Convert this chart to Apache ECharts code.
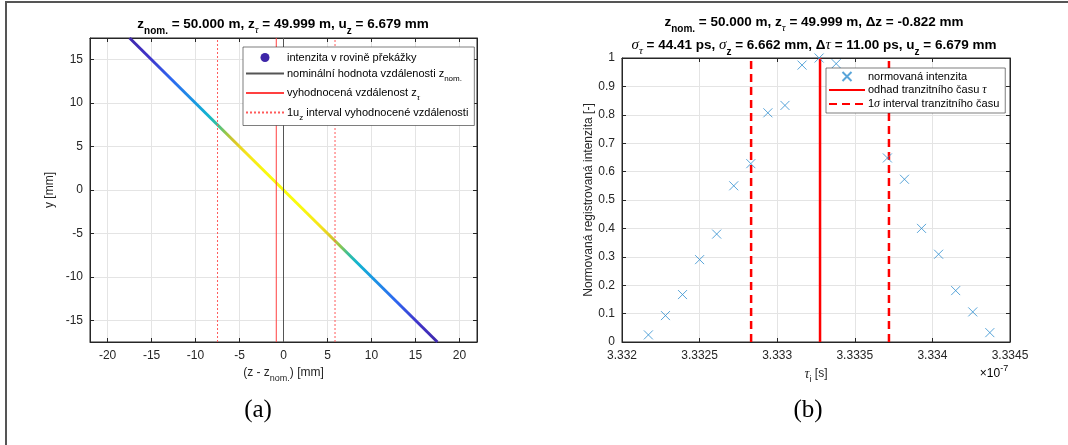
<!DOCTYPE html>
<html><head><meta charset="utf-8">
<script src="https://cdn.jsdelivr.net/npm/echarts@6/dist/echarts.min.js"></script>
<style>html,body{margin:0;padding:0;background:#fff}#c{width:1068px;height:445px}</style>
</head><body><div id="c"></div>
<script>
// ---------- panel (a) data ----------
const lineZ = [-17.5, 17.5];          // (z - z_nom) [mm]
const lineY = [17.5, -17.5];          // y [mm]
const zNomOffset = 0;
const zTauOffset = -0.822;            // mm
const uZ = 6.679;                     // mm
const yRangeA = [-17.5, 17.5];
const xRangeA = [-22, 22];
// ---------- panel (b) data (tau in units of 1e-7 s) ----------
const tauValues = [3.33217, 3.33228, 3.33239, 3.33250, 3.33261, 3.33272, 3.33283, 3.33294, 3.33305, 3.33316, 3.33327, 3.33338,
                   3.33371, 3.33382, 3.33393, 3.33404, 3.33415, 3.33426, 3.33437];
const intensity = [0.025, 0.093, 0.167, 0.29, 0.38, 0.55, 0.628, 0.807, 0.833, 0.975, 1.0, 0.98,
                   0.648, 0.573, 0.40, 0.309, 0.181, 0.106, 0.033];
const tauEst = 3.333276;
const sigmaTau = 0.0004441;
const xRangeB = [3.332, 3.3345];
const yRangeB = [0, 1];

const SANS = 'Liberation Sans';
const SERIF = 'Liberation Serif';
const AX = '#262626';
const GRID = '#e4e4e4';

const titleRich = {
  b:  {fontFamily: SANS, fontWeight: 'bold', fontSize: 13.5, color: '#000', lineHeight: 24},
  bs: {fontFamily: SANS, fontWeight: 'bold', fontSize: 10, color: '#000', lineHeight: 24, verticalAlign: 'bottom'},
  gi: {fontFamily: SERIF, fontStyle: 'italic', fontSize: 15, color: '#000', lineHeight: 24},
  gs: {fontFamily: SERIF, fontStyle: 'italic', fontSize: 11, color: '#000', lineHeight: 24, verticalAlign: 'bottom'}
};
const labRich = {
  t: {fontFamily: SANS, fontSize: 12, color: AX, lineHeight: 20},
  s: {fontFamily: SANS, fontSize: 9, color: AX, lineHeight: 20, verticalAlign: 'bottom'},
  g: {fontFamily: SERIF, fontStyle: 'italic', fontSize: 14, color: AX, lineHeight: 20},
  p: {fontFamily: SANS, fontSize: 9, color: AX, lineHeight: 20, verticalAlign: 'top'}
};
function legRich(lh) {
  return {
    t: {fontFamily: SANS, fontSize: 11, color: '#000', lineHeight: lh},
    s: {fontFamily: SANS, fontSize: 8, color: '#000', lineHeight: lh, verticalAlign: 'bottom'},
    g: {fontFamily: SERIF, fontStyle: 'italic', fontSize: 12, color: '#000', lineHeight: lh},
    gs: {fontFamily: SERIF, fontStyle: 'italic', fontSize: 9, color: '#000', lineHeight: lh, verticalAlign: 'bottom'}
  };
}

const N_DIAG = 'intenzita v rovině překážky';
const N_NOM = 'nominální hodnota vzdálenosti z_nom.';
const N_TAU = 'vyhodnocená vzdálenost z_tau';
const N_UZ = '1u_z interval vyhodnocené vzdálenosti';
const N_INT = 'normovaná intenzita';
const N_EST = 'odhad tranzitního času tau';
const N_SIG = '1sigma interval tranzitního času';
const legendText = {};
legendText[N_DIAG] = '{t|intenzita v rovině překážky}';
legendText[N_NOM] = '{t|nominální hodnota vzdálenosti z}{s|nom.}';
legendText[N_TAU] = '{t|vyhodnocená vzdálenost z}{gs|τ}';
legendText[N_UZ] = '{t|1u}{s|z}{t| interval vyhodnocené vzdálenosti}';
legendText[N_INT] = '{t|normovaná intenzita}';
legendText[N_EST] = '{t|odhad tranzitního času }{g|τ}';
legendText[N_SIG] = '{t|1}{g|σ}{t| interval tranzitního času}';

const diagGradient = {
  type: 'linear', x: 0, y: 0, x2: 1, y2: 0,
  colorStops: [
    {offset: 0.00, color: '#3e26a8'}, {offset: 0.07, color: '#4134c9'},
    {offset: 0.14, color: '#2e66f0'}, {offset: 0.21, color: '#1b95e4'},
    {offset: 0.26, color: '#12b5cf'}, {offset: 0.29, color: '#3ebf94'},
    {offset: 0.315, color: '#93c74a'}, {offset: 0.34, color: '#d6c52a'},
    {offset: 0.38, color: '#f5e31c'}, {offset: 0.45, color: '#f9fb0e'},
    {offset: 0.55, color: '#f9fb0e'}, {offset: 0.62, color: '#f5e31c'},
    {offset: 0.655, color: '#d6c52a'}, {offset: 0.68, color: '#93c74a'},
    {offset: 0.705, color: '#3ebf94'}, {offset: 0.735, color: '#12b5cf'},
    {offset: 0.79, color: '#1b95e4'}, {offset: 0.86, color: '#2e66f0'},
    {offset: 0.93, color: '#4134c9'}, {offset: 1.00, color: '#3e26a8'}
  ]
};

function vline(x, yr) { return [[x, yr[0]], [x, yr[1]]]; }
function fmtB(v) { return String(Math.round(v * 1e4) / 1e4); }
function fmtA(v) { return Math.abs(v % 5) < 1e-9 ? String(v) : ''; }

const baseAxis = {
  type: 'value',
  axisLine: {show: true, onZero: false, lineStyle: {color: AX, width: 1}},
  axisTick: {show: true, inside: true, length: 4, lineStyle: {color: AX}},
  splitLine: {show: true, lineStyle: {color: GRID, width: 1}}
};
function mk(extra) { return Object.assign({}, JSON.parse(JSON.stringify(baseAxis)), extra); }
const mirror = {axisLabel: {show: false}, splitLine: {show: false}};

function vSeries(name, xi, x, yr, color, width, type) {
  return {name: name, type: 'line', xAxisIndex: xi, yAxisIndex: xi, symbol: 'none',
    data: vline(x, yr), lineStyle: {width: width, color: color, type: type || 'solid'},
    itemStyle: {color: color, opacity: 0}};
}

const option = {
  animation: false,
  backgroundColor: '#fff',
  grid: [
    {left: 90, top: 38, width: 387, height: 304, show: true, borderColor: AX, borderWidth: 1, backgroundColor: '#fff'},
    {left: 622, top: 58, width: 388, height: 284, show: true, borderColor: AX, borderWidth: 1, backgroundColor: '#fff'}
  ],
  xAxis: [
    mk({gridIndex: 0, min: xRangeA[0], max: xRangeA[1], splitNumber: 8, position: 'bottom',
        axisLabel: {formatter: fmtA, color: AX, fontFamily: SANS, fontSize: 12, margin: 8},
        name: '{t|(z - z}{s|nom.}{t|) [mm]}', nameLocation: 'middle', nameGap: 20,
        nameTextStyle: {rich: labRich}}),
    mk(Object.assign({gridIndex: 0, min: xRangeA[0], max: xRangeA[1], splitNumber: 8, position: 'top'}, mirror)),
    mk({gridIndex: 1, min: xRangeB[0], max: xRangeB[1], interval: 0.0005, position: 'bottom',
        axisLabel: {formatter: fmtB, color: AX, fontFamily: SANS, fontSize: 12, margin: 8},
        name: '{g|τ}{s|i}{t| [s]}', nameLocation: 'middle', nameGap: 20,
        nameTextStyle: {rich: labRich}}),
    mk(Object.assign({gridIndex: 1, min: xRangeB[0], max: xRangeB[1], interval: 0.0005, position: 'top'}, mirror))
  ],
  yAxis: [
    mk({gridIndex: 0, min: yRangeA[0], max: yRangeA[1], splitNumber: 7, position: 'left',
        axisLabel: {formatter: fmtA, color: AX, fontFamily: SANS, fontSize: 12, margin: 7},
        name: 'y [mm]', nameLocation: 'middle', nameGap: 34,
        nameTextStyle: {fontFamily: SANS, fontSize: 12, color: AX}}),
    mk(Object.assign({gridIndex: 0, min: yRangeA[0], max: yRangeA[1], splitNumber: 7, position: 'right'}, mirror)),
    mk({gridIndex: 1, min: yRangeB[0], max: yRangeB[1], interval: 0.1, position: 'left',
        axisLabel: {color: AX, fontFamily: SANS, fontSize: 12, margin: 7},
        name: 'Normovaná registrovaná intenzita [-]', nameLocation: 'middle', nameGap: 27,
        nameTextStyle: {fontFamily: SANS, fontSize: 12, color: AX}}),
    mk(Object.assign({gridIndex: 1, min: yRangeB[0], max: yRangeB[1], interval: 0.1, position: 'right'}, mirror))
  ],
  legend: [
    {
      data: [{name: N_DIAG, icon: 'circle', itemStyle: {color: '#3e26a8', opacity: 1}}, N_NOM, N_TAU, N_UZ],
      orient: 'vertical', left: 243, top: 47, itemWidth: 38, itemHeight: 9, itemGap: 5,
      padding: [5, 6, 4, 2], borderColor: AX, borderWidth: 0.6, backgroundColor: '#fff',
      formatter: n => legendText[n], textStyle: {rich: legRich(18), padding: [0, 0, 0, -2]},
      selectedMode: false, z: 10
    },
    {
      data: [N_INT, N_EST, N_SIG],
      orient: 'vertical', left: 826, top: 68, itemWidth: 36, itemHeight: 9, itemGap: 2,
      padding: [3, 6, 3, 2], borderColor: AX, borderWidth: 0.6, backgroundColor: '#fff',
      formatter: n => legendText[n], textStyle: {rich: legRich(15), padding: [0, 0, 0, -2]},
      selectedMode: false, z: 10
    }
  ],
  series: [
    {name: N_DIAG, type: 'line', xAxisIndex: 0, yAxisIndex: 0, symbol: 'none',
     data: lineZ.map((z, i) => [z, lineY[i]]), lineStyle: {width: 3, color: diagGradient}, z: 3},
    vSeries(N_NOM, 0, zNomOffset, yRangeA, '#555555', 1),
    vSeries(N_TAU, 0, zTauOffset, yRangeA, '#ff4040', 1),
    vSeries(N_UZ, 0, zTauOffset - uZ, yRangeA, '#ff5a5a', 1, [2, 2]),
    vSeries(N_UZ, 0, zTauOffset + uZ, yRangeA, '#ff5a5a', 1, [2, 2]),

    {name: N_INT, type: 'scatter', xAxisIndex: 2, yAxisIndex: 2,
     symbol: 'path://M0,0L10,10M10,0L0,10', symbolSize: 9,
     data: tauValues.map((t, i) => [t, intensity[i]]),
     itemStyle: {color: 'rgba(0,0,0,0)', borderColor: '#2f8fd0', borderWidth: 1}, z: 4},
    vSeries(N_EST, 2, tauEst, yRangeB, '#ff0000', 2.5),
    vSeries(N_SIG, 2, tauEst - sigmaTau, yRangeB, '#ff0000', 2.5, [8, 5]),
    vSeries(N_SIG, 2, tauEst + sigmaTau, yRangeB, '#ff0000', 2.5, [8, 5])
  ],
  graphic: [
    {type: 'polyline', shape: {points: [[6, 445], [6, 2], [1068, 2]]}, style: {stroke: '#555', lineWidth: 2, fill: null}},
    {type: 'text', x: 283, y: 24, style: {
      text: '{b|z}{bs|nom.}{b| = 50.000 m, z}{gs|τ}{b| = 49.999 m, u}{bs|z}{b| = ' + uZ.toFixed(3) + ' mm}',
      rich: titleRich, align: 'center', verticalAlign: 'middle'}},
    {type: 'text', x: 814, y: 22, style: {
      text: '{b|z}{bs|nom.}{b| = 50.000 m, z}{gs|τ}{b| = 49.999 m, Δz = ' + zTauOffset.toFixed(3) + ' mm}',
      rich: titleRich, align: 'center', verticalAlign: 'middle'}},
    {type: 'text', x: 814, y: 45, style: {
      text: '{gi|σ}{gs|τ}{b| = 44.41 ps, }{gi|σ}{bs|z}{b| = 6.662 mm, Δ}{gi|τ}{b| = 11.00 ps, u}{bs|z}{b| = ' + uZ.toFixed(3) + ' mm}',
      rich: titleRich, align: 'center', verticalAlign: 'middle'}},
    {type: 'text', x: 994, y: 374, style: {
      text: '{t|×10}{p|-7}', rich: labRich, align: 'center', verticalAlign: 'middle'}},
    {type: 'text', x: 258, y: 410, style: {text: '(a)', fontFamily: SERIF, fontSize: 25, fill: '#000', align: 'center', verticalAlign: 'middle'}},
    {type: 'text', x: 808, y: 410, style: {text: '(b)', fontFamily: SERIF, fontSize: 25, fill: '#000', align: 'center', verticalAlign: 'middle'}}
  ]
};
const chart = echarts.init(document.getElementById('c'), null, {renderer: 'canvas'});
chart.setOption(option);
</script></body></html>
